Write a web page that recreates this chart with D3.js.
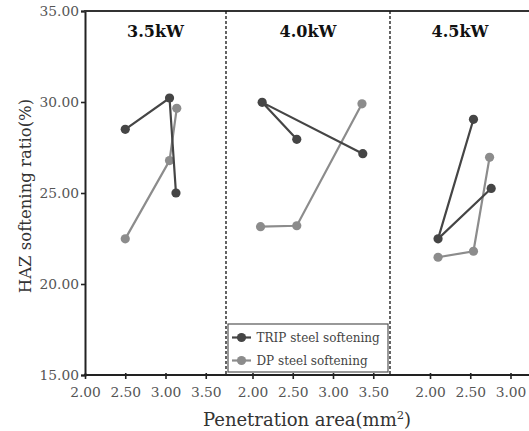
<!DOCTYPE html>
<html>
<head>
<meta charset="utf-8">
<script src="https://cdn.jsdelivr.net/npm/d3@7"></script>
<style>
  html, body { margin: 0; padding: 0; background: #fff; }
  svg { display: block; }
  text { font-family: "DejaVu Serif", "Liberation Serif", serif; }
</style>
</head>
<body>
<svg id="chart" width="529" height="431"></svg>
<script>
// Laser power groups, one panel each
const categories = ["3.5kW", "4.0kW", "4.5kW"];

// Penetration area (mm²) and HAZ softening ratio (%) per group, in test order
const tripArea = [[2.50, 3.05, 3.13], [2.55, 2.12, 3.37], [2.54, 2.10, 2.76]];
const tripSoft = [[28.50, 30.22, 25.00], [27.95, 29.98, 27.16], [29.05, 22.48, 25.25]];
const dpArea   = [[2.50, 3.05, 3.14], [2.10, 2.55, 3.36], [2.10, 2.54, 2.74]];
const dpSoft   = [[22.48, 26.78, 29.65], [23.15, 23.20, 29.90], [21.47, 21.80, 26.96]];

const seriesNames = ["TRIP steel softening", "DP steel softening"];
const seriesColors = ["#454545", "#8c8c8c"];

const xTicks = [2.00, 2.50, 3.00, 3.50];
const yTicks = [15, 20, 25, 30, 35];

const yTitle = "HAZ softening ratio(%)";

// Layout
const plotTop = 11, plotBottom = 375, plotLeft = 85, plotRight = 529;
const panelEdges = [85, 226, 390, 538];   // panel boundaries in px
const tickOrigin = [85, 252.5, 430];      // where 2.00 sits in each panel
const pxPerUnit = 80.5;

const svg = d3.select("#chart");

const y = d3.scaleLinear().domain([15, 35]).range([plotBottom, plotTop]);

const xScales = categories.map((c, i) =>
  d3.scaleLinear().domain([2, 3.5]).range([tickOrigin[i], tickOrigin[i] + 1.5 * pxPerUnit]));

const tickFont = "13.8px";

// Y axis
const yAxis = svg.append("g")
  .attr("transform", `translate(${plotLeft},0)`)
  .call(d3.axisLeft(y).tickValues(yTicks).tickFormat(d3.format(".2f")).tickSize(4).tickPadding(2));
yAxis.select(".domain").attr("stroke", "#222").attr("stroke-width", 2);
yAxis.selectAll(".tick line").attr("stroke", "#222").attr("stroke-width", 1.6);
yAxis.selectAll(".tick text").attr("fill", "#555").style("font-size", tickFont);

// X axes (one per panel), clipped to panel extent
categories.forEach((c, i) => {
  const xs = xScales[i];
  const ticks = xTicks.filter(t => xs(t) >= panelEdges[i] - 0.5 && xs(t) <= Math.min(panelEdges[i + 1], plotRight) - 8);
  const g = svg.append("g")
    .attr("transform", `translate(0,${plotBottom})`)
    .call(d3.axisBottom(xs).tickValues(ticks).tickFormat(d3.format(".2f")).tickSize(4).tickPadding(8));
  g.select(".domain").remove();
  g.selectAll(".tick line").attr("stroke", "#222").attr("stroke-width", 1.6).attr("y1", -2);
  g.selectAll(".tick text").attr("fill", "#555").style("font-size", tickFont);
});

// Bottom and top frame lines
svg.append("line").attr("x1", plotLeft - 1).attr("x2", plotRight).attr("y1", plotBottom).attr("y2", plotBottom)
  .attr("stroke", "#222").attr("stroke-width", 2);
svg.append("line").attr("x1", plotLeft - 1).attr("x2", plotRight).attr("y1", plotTop).attr("y2", plotTop)
  .attr("stroke", "#333").attr("stroke-width", 2);

// Dashed panel dividers
[panelEdges[1], panelEdges[2]].forEach(px => {
  svg.append("line").attr("x1", px).attr("x2", px).attr("y1", plotTop).attr("y2", plotBottom)
    .attr("stroke", "#111").attr("stroke-width", 1.3).attr("stroke-dasharray", "3,2");
});

// Panel titles
categories.forEach((c, i) => {
  svg.append("text")
    .attr("x", (panelEdges[i] + panelEdges[i + 1]) / 2 - (i === 2 ? 4 : 0))
    .attr("y", 37)
    .attr("text-anchor", "middle")
    .style("font-size", "16px").style("font-weight", "bold")
    .attr("fill", "#111")
    .text(c);
});

// Series
const line = d3.line();
categories.forEach((c, i) => {
  const xs = xScales[i];
  const groups = [
    { area: tripArea[i], soft: tripSoft[i], color: seriesColors[0] },
    { area: dpArea[i], soft: dpSoft[i], color: seriesColors[1] }
  ];
  // DP first so TRIP sits on top
  [groups[1], groups[0]].forEach(s => {
    const pts = s.area.map((a, k) => [xs(a), y(s.soft[k])]);
    svg.append("path").attr("d", line(pts)).attr("fill", "none")
      .attr("stroke", s.color).attr("stroke-width", 2.2);
    svg.selectAll(null).data(pts).enter().append("circle")
      .attr("cx", d => d[0]).attr("cy", d => d[1]).attr("r", 4.6)
      .attr("fill", s.color);
  });
});

// Legend
const lg = svg.append("g").attr("transform", "translate(228,324)");
lg.append("rect").attr("width", 160).attr("height", 48)
  .attr("fill", "#fff").attr("stroke", "#555").attr("stroke-width", 1.2);
seriesNames.forEach((n, i) => {
  const yy = 13.5 + i * 23;
  lg.append("line").attr("x1", 4).attr("x2", 23).attr("y1", yy).attr("y2", yy)
    .attr("stroke", seriesColors[i]).attr("stroke-width", 2.2);
  lg.append("circle").attr("cx", 13.5).attr("cy", yy).attr("r", 4.6).attr("fill", seriesColors[i]);
  lg.append("text").attr("x", 28.5).attr("y", yy + 4.5)
    .style("font-size", "12px").attr("fill", "#444").text(n);
});

// Axis titles
svg.append("text")
  .attr("transform", `translate(31,${(plotTop + plotBottom) / 2 + 3}) rotate(-90)`)
  .attr("text-anchor", "middle")
  .style("font-size", "16.5px").attr("fill", "#333")
  .text(yTitle);

const xt = svg.append("text")
  .attr("x", 307).attr("y", 426)
  .attr("text-anchor", "middle")
  .style("font-size", "18px").attr("fill", "#333");
xt.append("tspan").text("Penetration area(mm");
xt.append("tspan").attr("dy", -7).style("font-size", "11.5px").text("2");
xt.append("tspan").attr("dy", 7).text(")");
</script>
</body>
</html>
